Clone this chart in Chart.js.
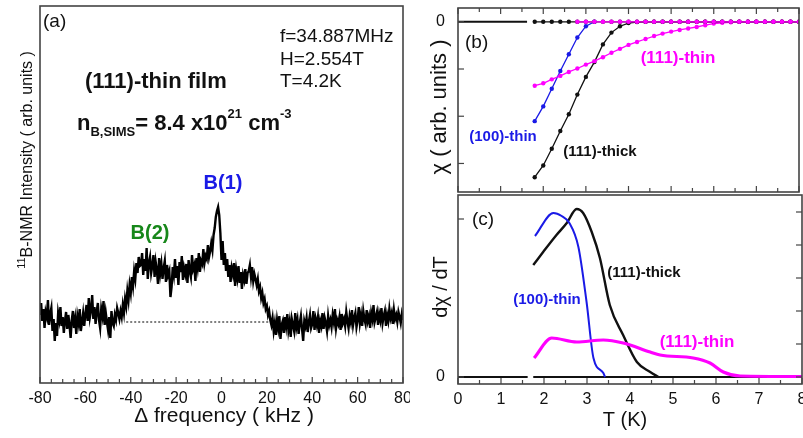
<!DOCTYPE html>
<html lang="en">
<head>
<meta charset="UTF-8">
<title>11B-NMR spectrum and susceptibility</title>
<script src="https://cdn.jsdelivr.net/npm/chart.js@4.4.1/dist/chart.umd.min.js"></script>
<style>
    body { margin: 0; background: #fff; }
    #wrap { position: relative; width: 803px; height: 438px; overflow: hidden; }
    canvas { position: absolute; }
</style>
</head>
<body>
<div id="wrap">
    <canvas id="nmrCanvas" width="410" height="438" style="left:0;top:0"></canvas>
    <canvas id="chiCanvas" width="393" height="196" style="left:410px;top:0"></canvas>
    <canvas id="dchiCanvas" width="393" height="246" style="left:410px;top:192px"></canvas>
</div>
<script>
// ---- (a) 11B-NMR spectrum, sampled every 0.5 kHz from -80 kHz ----
const freqStart = -80;
const freqStep = 0.5;
const nmrIntensity = [
    68,80,62,74,55,71,66,83,58,69,
    75,52,64,42,60,47,70,63,76,57,
    66,50,62,71,54,68,58,45,63,72,
    55,64,49,67,60,74,52,61,70,57,
    69,78,62,85,66,73,88,64,76,59,
    71,80,63,55,74,67,82,58,70,61,
    53,66,45,72,60,57,68,63,75,70,
    64,72,66,78,70,84,77,92,83,98,90,106,97,112,104,120,110,126,117,
    118,130,108,124,112,135,104,120,126,110,
    117,128,106,121,113,99,125,110,119,104,
    115,122,101,118,108,112,86,96,116,108,
    124,105,117,98,121,111,127,103,115,109,
    119,100,123,112,106,128,114,118,102,125,
    116,130,111,122,119,134,120,127,124,138,
    126,132,
    140,133,148,155,166,172,
    176,168,150,123,142,118,130,
    112,124,106,118,101,115,109,120,97,113,
    105,117,100,111,94,108,103,114,99,110,
    112,118,106,116,102,109,104,
    98,104,92,96,85,90,80,84,74,77,68,72,63,58,65,52,
    60,48,63,55,67,44,58,62,50,66,
    57,69,53,61,46,64,58,52,70,56,
    63,49,60,67,54,42,62,57,65,51,
    61,68,55,59,72,53,64,58,66,50,
    62,57,70,54,65,60,52,67,58,63,
    56,68,61,74,55,63,59,66,53,69,
    60,64,57,71,62,55,67,61,73,58,
    65,70,56,63,76,60,68,57,72,64,
    59,73,62,67,55,70,64,78,61,66,
    71,58,69,63,75,60,67,72,57,68,
    62,74,65,70,59,73,64,68,61,71,
    66,60,69,63
];
const baseFreq = [-42, 21];
const baseLevel = [61, 61];

// ---- (b) chi vs T ----
const tChi = [1.8,2.0,2.2,2.4,2.6,2.8,3.0,3.2,3.4,3.6,3.8,4.0,4.2,4.4,4.6,4.8,5.0,5.2,5.4,5.6,5.8,6.0,6.2,6.4,6.6,6.8,7.0,7.2,7.4,7.6,7.8,8.0];
const chiThick = [-158,-146,-129,-111,-94,-74,-56,-41,-23,-11,-4.5,-1.3,-0.3,0,0,0,0,0,0,0,0,0,0,0,0,0,0,0,0,0,0,0];
const chi100Thin = [-101,-86,-68,-50,-33,-16,-4.5,0,null,null,null,null,null,null,null,null,null,null,null,null,null,null,null,null,null,null,null,null,null,null,null,null];
const chi111Thin = [-65,-62.5,-58.5,-55,-51,-47.5,-43.5,-40,-36,-31.5,-27.5,-23.5,-20.5,-17.5,-14.5,-12,-10,-8.3,-6.8,-5.3,-3.5,-1.8,-1,-0.5,0,0,0,0,0,0,0,0];
const chiThickFC = [0,0,0,0,0,0,0,0,0,0,0,0,0,0,0,0,0,0,0,0,0,0,0,0,0,0,0,0,0,0,0,0];
const chi111ThinFC = [null,null,null,null,null,0,0,0,0,0,0,0,0,0,0,0,0,0,0,0,0,0,0,0,0,0,0,0,0,0,0,0];
const zeroT = [0, 1.62];
const zeroV = [0, 0];
const chiTicks = [0, -48, -96, -144];

// ---- (c) dchi/dT vs T ----
const dT100 = [1.79, 2.22, 2.41, 2.59, 2.80, 2.99, 3.15, 3.38, 3.42];
const dV100 = [141, 164, 161, 154, 130, 75, 19, 4, 0];
const dTThick = [1.75, 1.98, 2.29, 2.53, 2.76, 2.91, 3.11, 3.30, 3.53, 3.84, 4.16, 4.47, 4.66];
const dVThick = [112, 125, 142, 154, 168, 164, 145, 119, 72, 42, 15, 5, 0];
const dTThin = [1.77, 2.18, 2.76, 3.38, 3.84, 4.47, 4.70, 5.47, 5.86, 6.17, 6.56, 8.0];
const dVThin = [19, 39, 35, 37, 34, 25, 22, 19, 14, 5, 1, 0.5];
const dZeroT = [1.75, 8];
const dZeroV = [0, 0];
const dLeftTicks = [0, 158];
const dRightTicks = [0, 33, 66, 99, 132, 165];

const F = "'Liberation Sans', Arial, Helvetica, sans-serif";
const BLK = '#111', BLU = '#1a1ae6', MAG = '#ff00ff', GRN = '#17871a';
Chart.defaults.font.family = F;
Chart.defaults.color = BLK;

const pts = (xs, ys) => xs.map((x, i) => ({ x: x, y: ys[i] }));
const nmrPoints = nmrIntensity.map((v, i) => ({ x: freqStart + i * freqStep, y: v }));

function drawText(ctx, it, ox, oy) {
    ctx.save();
    ctx.translate(it.x - ox, it.y - oy);
    if (it.rot) ctx.rotate(it.rot);
    ctx.fillStyle = it.color || BLK;
    ctx.textAlign = 'left';
    ctx.textBaseline = it.baseline || 'middle';
    const parts = it.parts || [{ t: it.t, font: it.font }];
    let total = 0;
    parts.forEach(p => { ctx.font = p.font; total += ctx.measureText(p.t).width; });
    let x = it.align === 'left' ? 0 : -total / 2;
    parts.forEach(p => {
        ctx.font = p.font;
        ctx.fillText(p.t, x, p.dy || 0);
        x += ctx.measureText(p.t).width;
    });
    ctx.restore();
}

// frame, inward ticks and the text labels of one panel
function decor(cfg) {
    return {
        id: 'decor',
        afterDraw(chart) {
            const ctx = chart.ctx, a = chart.chartArea;
            const xs = chart.scales.x, ys = chart.scales.y;
            ctx.save();
            ctx.strokeStyle = '#444';
            ctx.lineWidth = 1.2;
            const seg = (x1, y1, x2, y2) => { ctx.beginPath(); ctx.moveTo(x1, y1); ctx.lineTo(x2, y2); ctx.stroke(); };
            (cfg.xEdges || []).forEach(edge => {
                xs.ticks.forEach(t => {
                    const px = xs.getPixelForValue(t.value);
                    const r = Math.abs(t.value % cfg.xMajor);
                    const len = (r < 1e-6 || Math.abs(r - cfg.xMajor) < 1e-6) ? 6 : 4;
                    if (edge === 'bottom') seg(px, a.bottom, px, a.bottom - len);
                    else seg(px, a.top, px, a.top + len);
                });
            });
            (cfg.leftTicks || []).forEach(v => { const py = ys.getPixelForValue(v); seg(a.left, py, a.left + 6, py); });
            (cfg.rightTicks || []).forEach(v => { const py = ys.getPixelForValue(v); seg(a.right, py, a.right - 6, py); });
            ctx.lineWidth = 1.6;
            ctx.strokeRect(a.left, a.top, a.right - a.left, a.bottom - a.top);
            ctx.restore();
            cfg.texts.forEach(it => drawText(ctx, it, cfg.ox, cfg.oy));
        }
    };
}

const commonOpts = {
    responsive: false,
    animation: false,
    devicePixelRatio: 1,
    plugins: { legend: { display: false }, tooltip: { enabled: false } },
    elements: { point: { radius: 0 } }
};

// ---------- (a) ----------
new Chart(document.getElementById('nmrCanvas'), {
    type: 'line',
    data: {
        datasets: [
            { data: nmrPoints, borderColor: '#000', borderWidth: 2.4, pointRadius: 0, tension: 0 },
            { data: pts(baseFreq, baseLevel), borderColor: '#000', borderWidth: 1, borderDash: [2, 2], pointRadius: 0 }
        ]
    },
    options: Object.assign({}, commonOpts, {
        layout: { padding: { left: 0, top: 6, right: 7, bottom: 0 } },
        scales: {
            x: {
                type: 'linear', min: -80, max: 80,
                grid: { display: false }, border: { display: false },
                ticks: { stepSize: 5, autoSkip: false, maxRotation: 0, padding: -2, font: { size: 16 }, color: BLK,
                    callback: v => (v % 20 === 0 ? String(v) : '') },
                afterFit: s => { s.height = 55; s.paddingLeft = 0; s.paddingRight = 0; }
            },
            y: {
                min: 0, max: 377,
                grid: { display: false }, border: { display: false }, ticks: { display: false },
                afterFit: s => { s.width = 40; s.paddingTop = 0; s.paddingBottom = 0; }
            }
        }
    }),
    plugins: [decor({
        ox: 0, oy: 0, xEdges: ['bottom'], xMajor: 20,
        texts: [
            { t: '(a)', x: 43, y: 22, font: `19px ${F}`, align: 'left' },
            { t: 'f=34.887MHz', x: 280, y: 37, font: `19px ${F}`, align: 'left' },
            { t: 'H=2.554T', x: 280, y: 60, font: `19px ${F}`, align: 'left' },
            { t: 'T=4.2K', x: 280, y: 82, font: `19px ${F}`, align: 'left' },
            { t: '(111)-thin film', x: 85, y: 82, font: `bold 22px ${F}`, align: 'left' },
            { x: 77, y: 130, align: 'left', baseline: 'alphabetic', parts: [
                { t: 'n', font: `bold 22px ${F}` },
                { t: 'B,SIMS', font: `bold 13px ${F}`, dy: 6 },
                { t: '= 8.4 x10', font: `bold 22px ${F}` },
                { t: '21', font: `bold 13px ${F}`, dy: -12 },
                { t: ' cm', font: `bold 22px ${F}` },
                { t: '-3', font: `bold 13px ${F}`, dy: -12 }
            ] },
            { t: 'B(1)', x: 223, y: 183, font: `bold 20px ${F}`, color: BLU },
            { t: 'B(2)', x: 150, y: 233, font: `bold 20px ${F}`, color: GRN },
            { x: 28, y: 160, rot: -Math.PI / 2, parts: [
                { t: '11', font: `11px ${F}`, dy: -6 },
                { t: 'B-NMR Intensity ( arb. units )', font: `16px ${F}` }
            ] },
            { t: 'Δ frequency ( kHz )', x: 224, y: 416, font: `21px ${F}` }
        ]
    })]
});

// ---------- (b) ----------
const markerSet = (color) => ({ borderColor: color, backgroundColor: color, pointBackgroundColor: color,
    pointBorderWidth: 0, pointRadius: 2.2, borderWidth: 1.3, tension: 0 });
new Chart(document.getElementById('chiCanvas'), {
    type: 'line',
    data: {
        datasets: [
            Object.assign({ data: pts(tChi, chi111ThinFC) }, markerSet(MAG)),
            Object.assign({ data: pts(tChi, chiThickFC) }, markerSet(BLK)),
            Object.assign({ data: pts(tChi, chi111Thin) }, markerSet(MAG)),
            Object.assign({ data: pts(tChi, chi100Thin) }, markerSet(BLU)),
            Object.assign({ data: pts(tChi, chiThick) }, markerSet(BLK)),
            { data: pts(zeroT, zeroV), borderColor: BLK, borderWidth: 2, pointRadius: 0 }
        ]
    },
    options: Object.assign({}, commonOpts, {
        layout: { padding: { left: 0, top: 8, right: 1, bottom: 1 } },
        scales: {
            x: {
                type: 'linear', min: 0, max: 8,
                grid: { display: false }, border: { display: false },
                ticks: { display: false, stepSize: 0.5, autoSkip: false },
                afterFit: s => { s.height = 0; s.paddingLeft = 0; s.paddingRight = 0; }
            },
            y: {
                min: -173, max: 14,
                grid: { display: false }, border: { display: false },
                afterBuildTicks: s => { s.ticks = chiTicks.map(v => ({ value: v })); },
                ticks: { padding: 5, font: { size: 16 }, color: BLK, callback: v => (v === 0 ? '0' : '') },
                afterFit: s => { s.width = 48; s.paddingTop = 0; s.paddingBottom = 0; }
            }
        }
    }),
    plugins: [decor({
        ox: 410, oy: 0, xEdges: ['top', 'bottom'], xMajor: 1, leftTicks: chiTicks,
        texts: [
            { t: '(b)', x: 465, y: 43, font: `19px ${F}`, align: 'left' },
            { t: '(111)-thin', x: 678, y: 58, font: `bold 17px ${F}`, color: MAG },
            { t: '(100)-thin', x: 503, y: 137, font: `bold 15px ${F}`, color: BLU },
            { t: '(111)-thick', x: 600, y: 152, font: `bold 15px ${F}`, color: BLK },
            { t: 'χ ( arb. units )', x: 440, y: 107, rot: -Math.PI / 2, font: `22px ${F}` }
        ]
    })]
});

// ---------- (c) ----------
new Chart(document.getElementById('dchiCanvas'), {
    type: 'line',
    data: {
        datasets: [
            { data: pts(dTThin, dVThin), borderColor: MAG, borderWidth: 3.2, pointRadius: 0, cubicInterpolationMode: 'monotone' },
            { data: pts(dT100, dV100), borderColor: BLU, borderWidth: 2, pointRadius: 0, cubicInterpolationMode: 'monotone' },
            { data: pts(dTThick, dVThick), borderColor: BLK, borderWidth: 2.4, pointRadius: 0, cubicInterpolationMode: 'monotone' },
            { data: pts(dZeroT, dZeroV), borderColor: BLK, borderWidth: 2, pointRadius: 0 },
            { data: pts(zeroT, zeroV), borderColor: BLK, borderWidth: 2, pointRadius: 0 }
        ]
    },
    options: Object.assign({}, commonOpts, {
        layout: { padding: { left: 0, top: 3, right: 1, bottom: 0 } },
        scales: {
            x: {
                type: 'linear', min: 0, max: 8,
                grid: { display: false }, border: { display: false },
                ticks: { stepSize: 0.5, autoSkip: false, maxRotation: 0, padding: -2, font: { size: 16 }, color: BLK,
                    callback: v => (Number.isInteger(v) ? String(v) : '') },
                afterFit: s => { s.height = 54; s.paddingLeft = 0; s.paddingRight = 0; }
            },
            y: {
                min: -7, max: 182,
                grid: { display: false }, border: { display: false },
                afterBuildTicks: s => { s.ticks = dLeftTicks.map(v => ({ value: v })); },
                ticks: { padding: 5, font: { size: 16 }, color: BLK, callback: v => (v === 0 ? '0' : '') },
                afterFit: s => { s.width = 48; s.paddingTop = 0; s.paddingBottom = 0; }
            }
        }
    }),
    plugins: [decor({
        ox: 410, oy: 192, xEdges: ['bottom'], xMajor: 1, leftTicks: dLeftTicks, rightTicks: dRightTicks,
        texts: [
            { t: '(c)', x: 472, y: 220, font: `19px ${F}`, align: 'left' },
            { t: '(111)-thick', x: 644, y: 273, font: `bold 15px ${F}`, color: BLK },
            { t: '(100)-thin', x: 547, y: 300, font: `bold 15px ${F}`, color: BLU },
            { t: '(111)-thin', x: 697, y: 342, font: `bold 17px ${F}`, color: MAG },
            { t: 'dχ / dT', x: 441, y: 287, rot: -Math.PI / 2, font: `20px ${F}` },
            { t: 'T (K)', x: 625, y: 420, font: `20px ${F}` }
        ]
    })]
});
</script>
</body>
</html>
